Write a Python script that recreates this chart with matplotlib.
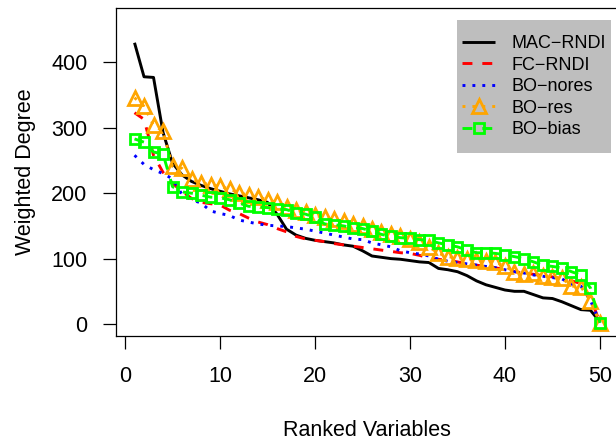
import matplotlib
matplotlib.use("Agg")
import matplotlib.pyplot as plt
import numpy as np

plt.rcParams['font.family'] = ['Liberation Sans', 'DejaVu Sans']

ranks = list(range(1, 51))

mac_rndi = [430, 378, 377, 293, 246, 228, 218, 212, 207, 203, 199, 196, 193, 190, 186,
            168, 145, 136, 131, 128, 126, 124, 121, 119, 112, 104, 102, 100, 99, 97,
            95, 94, 85, 83, 80, 74, 66, 60, 56, 52, 50, 50, 45, 40, 39, 34, 28, 22, 21, 3]
fc_rndi = [323, 313, 258, 232, 215, 203, 192, 186, 184, 182, 174, 169, 162, 156, 152,
           146, 141, 134, 130, 128, 126, 123, 121, 119, 117, 115, 113, 111, 109, 108,
           105, 101, 99, 97, 95, 92, 90, 88, 86, 83, 80, 78, 76, 74, 72, 69, 66, 62, 40, 2]
bo_nores = [258, 244, 236, 230, 222, 198, 190, 185, 173, 169, 166, 159, 156, 153, 151,
            150, 149, 147, 145, 142, 139, 136, 133, 130, 129, 124, 121, 118, 112, 109,
            107, 104, 99, 96, 94, 92, 90, 88, 86, 83, 80, 78, 75, 73, 71, 69, 61, 58, 36, 2]
bo_res = [346, 333, 304, 295, 241, 238, 221, 216, 213, 211, 206, 201, 197, 194, 190,
          186, 179, 174, 171, 166, 163, 160, 157, 153, 150, 146, 141, 138, 134, 130,
          125, 118, 108, 103, 101, 100, 98, 97, 95, 88, 80, 77, 78, 74, 72, 70, 58, 57, 35, 2]
bo_bias = [283, 278, 263, 260, 210, 202, 200, 197, 194, 193, 190, 185, 180, 179, 178,
           176, 175, 170, 168, 163, 153, 152, 150, 147, 146, 142, 137, 134, 132, 131,
           129, 128, 124, 121, 118, 113, 109, 109, 108, 106, 103, 100, 95, 90, 88, 86,
           80, 75, 55, 2]

series_labels = ["MAC\u2212RNDI", "FC\u2212RNDI", "BO\u2212nores", "BO\u2212res", "BO\u2212bias"]
x_ticks = [0, 10, 20, 30, 40, 50]
y_ticks = [0, 100, 200, 300, 400]

W, H = 616, 446
fig = plt.figure(figsize=(W / 100, H / 100), dpi=100)
ax_left, ax_right = 115.9, 618.6
ax_top, ax_bottom = 7.7, 336.2
ax = fig.add_axes([ax_left / W, 1 - ax_bottom / H, (ax_right - ax_left) / W, (ax_bottom - ax_top) / H])

lw = 2.1
ax.plot(ranks, mac_rndi, color='black', lw=lw, solid_capstyle='butt', label=series_labels[0], zorder=2)
ax.plot(ranks, fc_rndi, color='#FF0000', lw=lw, dashes=(3.4, 3.4), dash_capstyle='butt',
        label=series_labels[1], zorder=3)
ax.plot(ranks, bo_nores, color='#0000FF', lw=lw, dashes=(1.0, 2.4), dash_capstyle='butt',
        label=series_labels[2], zorder=4)
ax.plot(ranks, bo_res, color='#FFA500', lw=lw, dashes=(1.0, 2.4), dash_capstyle='butt',
        marker='^', markersize=10, markerfacecolor='none', markeredgewidth=2.0,
        label=series_labels[3], zorder=5)
ax.plot(ranks, bo_bias, color='#00FF00', lw=lw, dashes=(3.4, 3.4), dash_capstyle='butt',
        marker='s', markersize=7.5, markerfacecolor='none', markeredgewidth=2.0,
        label=series_labels[4], zorder=6)

ax.set_xlim(-0.96, 51.96)
ax.set_ylim(-18.6, 483.6)
ax.set_xticks(x_ticks)
ax.set_yticks(y_ticks)
ax.tick_params(direction='out', length=9.5, width=0.9, labelsize=15.5, colors='black')
ax.tick_params(axis='y', pad=11)
ax.tick_params(axis='x', pad=12)
for s in ax.spines.values():
    s.set_linewidth(0.9)
    s.set_color('black')

ax.set_xlabel("Ranked Variables", fontsize=15.5, labelpad=24)
ax.set_ylabel("Weighted Degree", fontsize=15.5, labelpad=11)

leg = ax.legend(loc='upper left', bbox_to_anchor=(0.6785, 0.9321), borderaxespad=0,
                fontsize=13, frameon=True, fancybox=False, framealpha=1,
                facecolor='#BEBEBE', edgecolor='none', handlelength=1.85,
                handletextpad=0.9, labelspacing=0.25, borderpad=0.28)
frame = leg.get_frame()
frame.set_boxstyle("square", pad=0.01)
frame.set_mutation_aspect(53)

fig.savefig("out.png", dpi=100)
